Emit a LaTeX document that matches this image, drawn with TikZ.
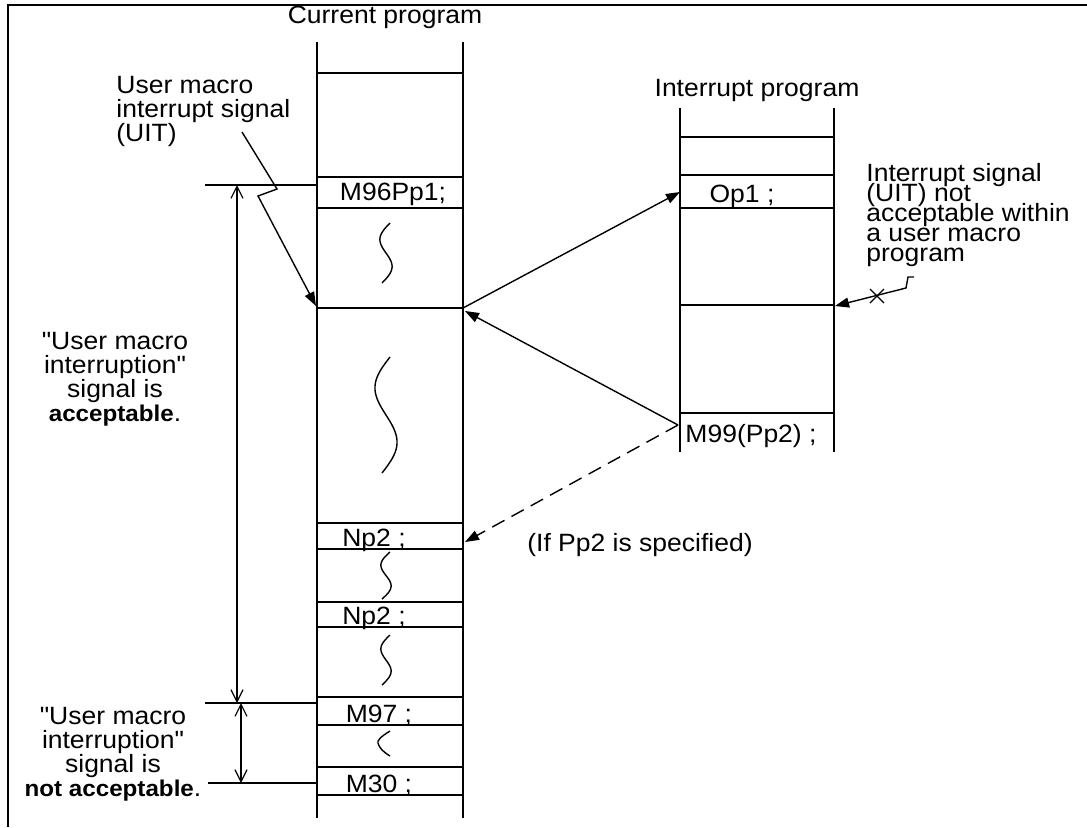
\documentclass[tikz,border=0pt]{standalone}
\usepackage{fontspec}
\setmainfont[FakeStretch=1.06, Ligatures=TeXOff]{Liberation Sans}
\usetikzlibrary{
    positioning,
    arrows.meta
}
\tikzset{
    >=Stealth,
    texto/.style={
        font=\fontsize{12.5}{12}\selectfont,
        inner sep=0pt
    },
    fila/.style={texto, anchor=base},
    nota/.style={texto, align=center},
    flecha/.style={-{Triangle[length=7pt,width=5pt]}, line width=0.7pt},
    cota/.style={{Straight Barb[length=6pt,width=6pt]}-{Straight Barb[length=6pt,width=6pt]}, line width=0.6pt},
    columna/.style={line width=1pt},
    onda/.style={line width=0.7pt}
}
\newcommand{\onda}[4]{%
    \draw[onda] plot[domain=0:1, samples=40, smooth]
        ({#1 - #4*sin(360*\x) + 8*(0.5-\x)}, {#2 + (#3-#2)*\x});}
\newcommand{\negrita}[1]{{\fontsize{11.4}{12}\selectfont\bfseries #1}}
\newcommand{\apretado}{\fontsize{12.5}{10}\selectfont\lineskiplimit=-100pt\relax}

\begin{document}
\begin{tikzpicture}[
    x=0.5pt, y=-0.5pt,
    >=Stealth
]
    \useasboundingbox (0,0) rectangle (1087,827);

    % Marco
    \draw[line width=1.4pt] (8,827) -- (8,5) -- (1087,5);

    % Columna del programa actual
    \draw[columna] (317,42) -- (317,818) (463,42) -- (463,818);
    \foreach \y in {73,177,208,308,523,549,602,627,697,725,767,795}
        \draw[columna] (317,\y) -- (463,\y);

    % Columna del programa de interrupcion
    \draw[columna] (680,108) -- (680,452) (834,108) -- (834,452);
    \foreach \y in {137,175,208,305,413}
        \draw[columna] (680,\y) -- (834,\y);

    % Ondas
    \onda{386}{223}{283}{8}
    \onda{386}{357}{473}{13}
    \onda{386}{552}{599}{7}
    \onda{386}{635}{685}{7}
    \draw[onda] (390,731) .. controls (380,737) and (377,741) .. (378,743)
                          .. controls (379,747) and (382,751) .. (390,756);

    % Titulos
    \node[texto] (curprog) at (385,17) {Current program};
    \node[texto] (intprog) at (757,90) {Interrupt program};

    % Filas
    \node[fila] (m96)  at (393,200) {M96Pp1;};
    \node[fila] (np2a) at (374,546) {Np2 ;};
    \node[fila] (np2b) at (374,624) {Np2 ;};
    \node[fila] (m97)  at (379,722) {M97 ;};
    \node[fila] (m30)  at (379,792) {M30 ;};
    \node[fila] (op1)  at (742,202) {Op1 ;};
    \node[fila] (m99)  at (751,442) {M99(Pp2) ;};

    % Notas
    \node[texto, align=left, anchor=north west] (uitlbl) at (116,76)
        {User macro\\interrupt signal\\(UIT)};
    \node[texto, align=left, anchor=north west, font=\apretado] (notlbl) at (866,163)
        {Interrupt signal\\(UIT) not\\acceptable within\\a user macro\\program};
    \node[texto] (ifpp2) at (640,545) {(If Pp2 is specified)};
    \node[nota] (acclbl) at (115,379)
        {"User macro\\interruption"\\signal is\\\negrita{acceptable}.};
    \node[nota] (nacclbl) at (113,754)
        {"User macro\\interruption"\\signal is\\\negrita{not acceptable}.};

    % Puntos de llegada
    \coordinate (uitA) at (242,132);
    \coordinate (uitB) at (277,189);
    \coordinate (uitC) at (258,196);
    \coordinate (entra) at (316,306);
    \coordinate (sale) at (463,308);
    \coordinate (vuelve) at (465,311);
    \coordinate (op1in) at (680,192);
    \coordinate (fin) at (678,425);
    \coordinate (np2in) at (465,542);
    \coordinate (sigA) at (914,277);
    \coordinate (sigB) at (908,277);
    \coordinate (sigC) at (906,288);
    \coordinate (bloq) at (835,306);
    \coordinate (cruz) at (877,296);

    % Conexiones
    \draw[flecha] (uitA) -- (uitB) -- (uitC) -- (entra);
    \draw[flecha] (sale) -- (op1in);
    \draw[flecha] (fin) -- (vuelve);
    \draw[flecha, dashed, dash pattern=on 7pt off 4pt] (fin) -- (np2in);
    \draw[flecha] (sigA) -- (sigB) -- (sigC) -- (bloq);
    \draw[line width=0.6pt] ([shift={(-7,-7)}]cruz) -- ([shift={(7,7)}]cruz)
                            ([shift={(-7,7)}]cruz) -- ([shift={(7,-7)}]cruz);

    % Cotas
    \coordinate (c1) at (237,185);
    \coordinate (c2) at (237,703);
    \coordinate (c3) at (241,703);
    \coordinate (c4) at (241,783);
    \draw[line width=0.6pt] (205,185) -- (317,185)
                            (205,703) -- (317,703)
                            (208,783) -- (317,783);
    \draw[cota] (c1) -- (c2);
    \draw[cota] (c3) -- (c4);

\end{tikzpicture}
\end{document}
